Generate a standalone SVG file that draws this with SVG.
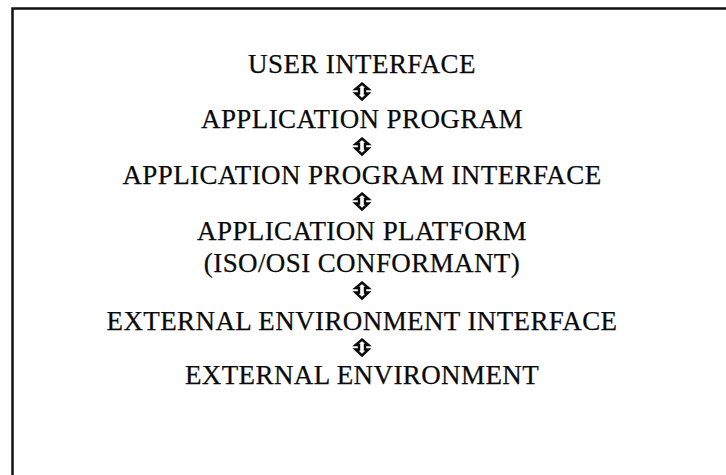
<svg xmlns="http://www.w3.org/2000/svg" width="726" height="475" viewBox="0 0 726 475">
  <style>
    .lbl { font-family: "Liberation Serif", "Times New Roman", serif; font-size: 27px; letter-spacing: 0.4px; fill: #0a0a0a; text-anchor: middle; stroke: #0a0a0a; stroke-width: 0.25; }
    .frame { stroke: #111; stroke-width: 2.5; fill: none; }
    .arr { fill: #fff; stroke: #0a0a0a; stroke-width: 2.4; stroke-linejoin: miter; }
  </style>
  <defs>
    <!-- hollow up-down arrow, origin at its top tip -->
    <path id="updown" class="arr" d="M0,0.5 L6.5,6 L3,6 L3,10.5 L6.5,10.5 L0,16.5 L-6.5,10.5 L-3,10.5 L-3,6 L-6.5,6 Z"/>
  </defs>
  <rect width="726" height="475" fill="#fff"/>
  <!-- open frame: top and left edges only -->
  <path class="frame" d="M12.5,475 L12.5,8.5 L726,8.5"/>

  <g id="user-interface"><text class="lbl" x="362" y="73">USER INTERFACE</text></g>
  <g id="application-program"><text class="lbl" x="362" y="128">APPLICATION PROGRAM</text></g>
  <g id="application-program-interface"><text class="lbl" x="362" y="184">APPLICATION PROGRAM INTERFACE</text></g>
  <g id="application-platform">
    <text class="lbl" x="362" y="240">APPLICATION PLATFORM</text>
    <text class="lbl" x="362" y="272">(ISO/OSI CONFORMANT)</text>
  </g>
  <g id="external-environment-interface"><text class="lbl" x="362" y="330">EXTERNAL ENVIRONMENT INTERFACE</text></g>
  <g id="external-environment"><text class="lbl" x="362" y="384">EXTERNAL ENVIRONMENT</text></g>

  <g id="connectors">
    <use href="#updown" x="362" y="83"/>
    <use href="#updown" x="362" y="138"/>
    <use href="#updown" x="362" y="193"/>
    <use href="#updown" x="362" y="282"/>
    <use href="#updown" x="362" y="339"/>
  </g>
</svg>
